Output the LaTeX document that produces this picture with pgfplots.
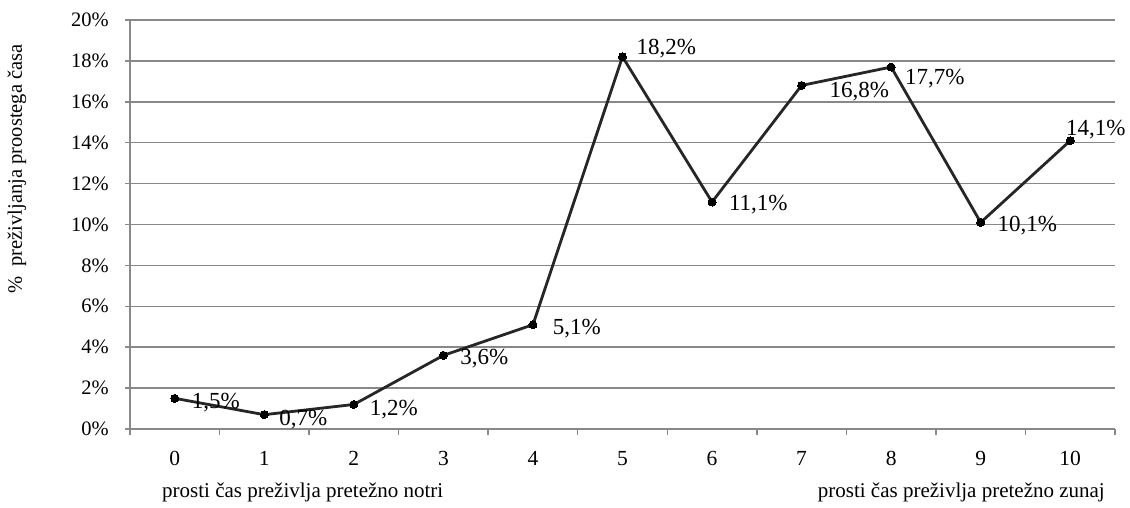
\documentclass[border=0pt]{standalone}
\usepackage{fontspec}
\setmainfont{Liberation Serif}
\usepackage{pgfplots}
\usepackage{pgfplotstable}
\pgfplotsset{compat=1.18}
\definecolor{gridgray}{HTML}{888888}
\definecolor{linecol}{HTML}{262626}
\pgfplotstableread{
x y dx dy
0 1.5 17 -4
1 0.7 15 -5
2 1.2 16 -5
3 3.6 17 -3
4 5.1 20 -4
5 18.2 14 8
6 11.1 17 -3
7 16.8 28 -6
8 17.7 14 -12
9 10.1 17 -3
10 14.1 -4 11
}\datatable
\begin{document}
\begin{tikzpicture}
\useasboundingbox (-130pt,-79pt) rectangle (1000pt,429pt);
\begin{axis}[
  at={(0pt,0pt)}, anchor=south west,
  scale only axis, width=985pt, height=409pt,
  xmin=-0.5, xmax=10.5, ymin=0, ymax=20,
  axis x line*=bottom, axis y line*=left,
  axis line style={-, draw=gridgray, line width=1.5pt},
  xtick={0,...,10},
  minor xtick={-0.5,0.5,...,10.5},
  ytick={0,2,...,20},
  tick align=outside,
  major tick length=5pt, minor tick length=6pt,
  major x tick style={draw=none},
  minor x tick style={draw=gridgray, line width=1.5pt},
  major y tick style={draw=gridgray, line width=1.5pt},
  ymajorgrids,
  major grid style={draw=gridgray, line width=1.5pt},
  /pgf/number format/assume math mode=true,
  yticklabel={\pgfmathprintnumber{\tick}\%},
  yticklabel style={font=\fontsize{20.5}{24}\selectfont, inner sep=0pt, anchor=east, xshift=-16pt},
  xticklabel style={font=\fontsize{21.5}{26}\selectfont, inner sep=0pt, anchor=north, yshift=-17pt},
  ylabel={\%\ \ preživljanja proostega časa},
  ylabel style={at={(axis description cs:-0.1147,0.6357)}, anchor=center, font=\fontsize{20.5}{24}\selectfont, inner sep=0pt},
  clip=false,
]
\addplot[color=linecol, line width=2.8pt, mark=*, mark size=4pt,
  mark options={fill=black, draw=black, line width=0pt},
  point meta=\thisrow{y},
  visualization depends on={\thisrow{dx} \as \dx},
  visualization depends on={\thisrow{dy} \as \dy},
  nodes near coords={\pgfmathprintnumber[fixed, fixed zerofill, precision=1, use comma, assume math mode=true]{\pgfplotspointmeta}\%},
  nodes near coords style={anchor=west, inner sep=0pt, xshift=\dx pt, yshift=\dy pt, font=\fontsize{23}{27}\selectfont, text=black},
] table[x=x, y=y] {\datatable};
\node[anchor=base west, inner sep=0pt, font=\fontsize{21}{25}\selectfont] at (axis description cs:0.0325,-0.1663) {prosti čas preživlja pretežno notri};
\node[anchor=base east, inner sep=0pt, font=\fontsize{21}{25}\selectfont] at (axis description cs:0.9898,-0.1663) {prosti čas preživlja pretežno zunaj};
\end{axis}
\end{tikzpicture}
\end{document}
